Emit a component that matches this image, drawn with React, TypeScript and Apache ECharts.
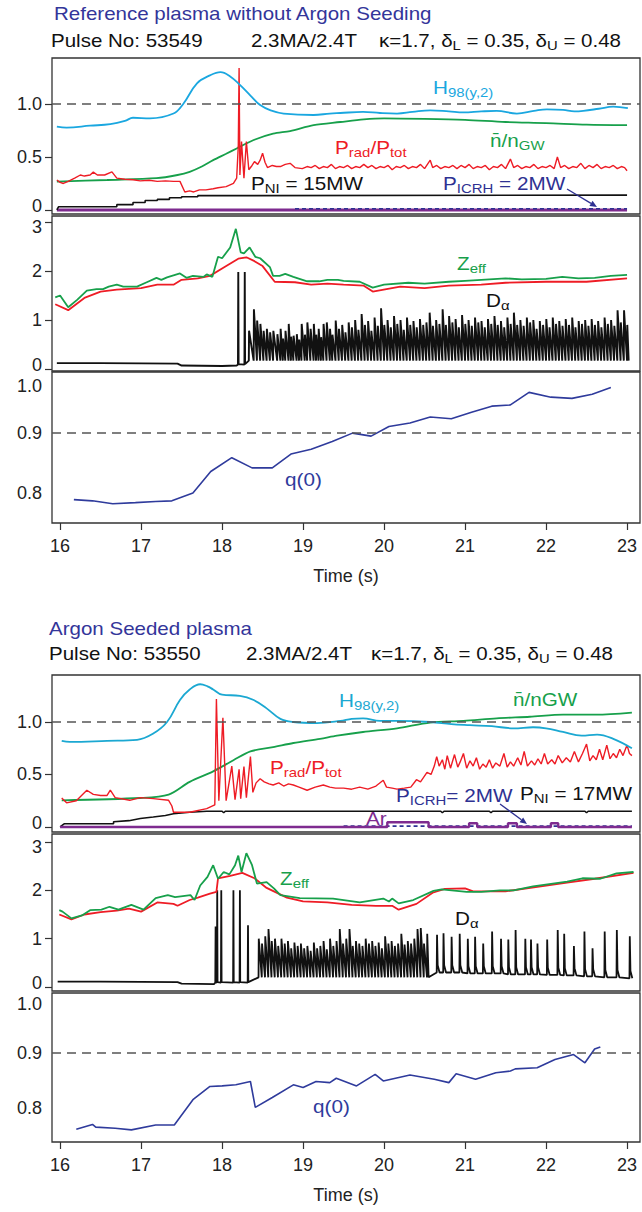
import React, { useEffect, useRef } from "react";
import * as echarts from "echarts";

const FONT = '"Liberation Sans", Arial, Helvetica, sans-serif';

// ---------- tick values ----------
const timeTicks = [16, 17, 18, 19, 20, 21, 22, 23];
const ticksTop = [0, 0.5, 1.0];
const ticksMid = [0, 1, 2, 3];
const ticksQ = [0.8, 0.9, 1.0];

// ---------- Figure 1 : Pulse 53549 (reference, no Ar) ----------
const h98_1 = [[15.96,0.786],[16.08,0.777],[16.37,0.795],[16.62,0.81],[16.8,0.84],[16.9,0.87],[17.11,0.865],[17.4,0.91],[17.52,1.0],[17.69,1.195],[17.85,1.27],[17.98,1.3],[18.1,1.26],[18.22,1.18],[18.35,1.08],[18.47,0.99],[18.6,0.94],[18.76,0.91],[19.13,0.896],[19.33,0.91],[19.46,0.915],[19.74,0.925],[19.95,0.915],[20.16,0.91],[20.35,0.925],[20.57,0.94],[20.8,0.93],[20.98,0.92],[21.2,0.93],[21.39,0.935],[21.64,0.91],[21.85,0.935],[22.01,0.95],[22.21,0.945],[22.35,0.93],[22.46,0.935],[22.65,0.955],[22.83,0.975],[23.01,0.96]];
const ngw_1 = [[15.96,0.267],[16.58,0.283],[17.19,0.3],[17.45,0.33],[17.6,0.36],[17.75,0.41],[17.89,0.47],[18.05,0.53],[18.18,0.58],[18.39,0.66],[18.63,0.72],[18.84,0.745],[19.13,0.8],[19.46,0.83],[19.75,0.855],[20.0,0.865],[20.5,0.86],[21.0,0.85],[21.5,0.83],[22.0,0.82],[22.5,0.805],[23.0,0.8]];
const prad_1 = [[15.96,0.283],[16.0,0.26],[16.04,0.25],[16.1,0.27],[16.18,0.3],[16.25,0.33],[16.3,0.32],[16.37,0.33],[16.41,0.357],[16.46,0.33],[16.55,0.33],[16.64,0.36],[16.7,0.3],[16.8,0.29],[16.9,0.285],[16.99,0.275],[17.1,0.28],[17.2,0.27],[17.3,0.275],[17.4,0.27],[17.48,0.27],[17.54,0.17],[17.6,0.18],[17.65,0.17],[17.72,0.19],[17.8,0.19],[17.89,0.2],[17.95,0.21],[18.05,0.22],[18.14,0.25],[18.18,0.3],[18.2,0.6],[18.21,1.34],[18.22,0.33],[18.24,0.645],[18.27,0.3],[18.3,0.645],[18.33,0.38],[18.37,0.42],[18.4,0.456],[18.44,0.43],[18.47,0.47],[18.5,0.535],[18.53,0.45],[18.56,0.4],[18.62,0.42],[18.67,0.41],[18.72,0.41],[18.78,0.43],[18.84,0.44],[18.9,0.4],[18.99,0.39],[19.05,0.41],[19.1,0.4],[19.15,0.42],[19.2,0.39],[19.25,0.41],[19.3,0.4],[19.35,0.43],[19.4,0.39],[19.45,0.41],[19.5,0.4],[19.55,0.42],[19.6,0.39],[19.65,0.41],[19.7,0.4],[19.75,0.43],[19.8,0.4],[19.85,0.42],[19.9,0.39],[19.95,0.41],[20.0,0.4],[20.05,0.42],[20.1,0.38],[20.15,0.41],[20.2,0.4],[20.25,0.42],[20.3,0.39],[20.35,0.41],[20.4,0.4],[20.45,0.43],[20.5,0.39],[20.57,0.47],[20.6,0.4],[20.65,0.42],[20.7,0.39],[20.75,0.41],[20.8,0.4],[20.85,0.42],[20.9,0.39],[20.95,0.42],[21.0,0.4],[21.05,0.43],[21.1,0.39],[21.15,0.41],[21.2,0.4],[21.25,0.42],[21.3,0.38],[21.35,0.41],[21.4,0.4],[21.45,0.43],[21.5,0.39],[21.56,0.48],[21.6,0.4],[21.65,0.42],[21.7,0.39],[21.75,0.41],[21.8,0.4],[21.85,0.43],[21.9,0.39],[21.95,0.41],[22.0,0.4],[22.05,0.42],[22.1,0.39],[22.14,0.5],[22.18,0.4],[22.23,0.42],[22.28,0.39],[22.33,0.41],[22.38,0.4],[22.43,0.44],[22.48,0.39],[22.53,0.42],[22.58,0.4],[22.63,0.43],[22.68,0.39],[22.73,0.41],[22.78,0.4],[22.83,0.42],[22.88,0.39],[22.93,0.41],[22.97,0.4],[23.0,0.37]];
const pni_1 = [[15.96,0.0],[15.98,0.03],[16.7,0.03],[16.7,0.05],[16.9,0.05],[16.9,0.07],[17.05,0.07],[17.05,0.09],[17.2,0.09],[17.2,0.1],[17.35,0.1],[17.35,0.115],[17.5,0.115],[17.5,0.125],[17.7,0.125],[17.7,0.135],[17.9,0.135],[17.9,0.14],[23.0,0.14]];
const picrh_1 = [[18.9,0.012],[23.0,0.012]];
const ar_1 = [[15.96,0.0],[23.0,0.0]];
const zeffA_1 = [[15.94,1.46],[16.0,1.5],[16.1,1.26],[16.21,1.41],[16.33,1.6],[16.45,1.63],[16.53,1.63],[16.6,1.68],[16.7,1.72],[16.78,1.68],[16.95,1.68],[17.07,1.77],[17.19,1.86],[17.25,1.82],[17.32,1.87],[17.48,1.95],[17.56,1.86],[17.64,1.9],[17.77,1.88],[17.81,1.93],[17.88,1.88],[17.95,2.29],[18.0,2.26],[18.1,2.48],[18.17,2.86],[18.23,2.38],[18.27,2.36],[18.34,2.48],[18.41,2.29],[18.47,2.26],[18.59,2.08],[18.63,1.9],[18.71,1.9],[18.78,1.94],[18.88,1.88],[19.05,1.79],[19.2,1.79],[19.3,1.82],[19.43,1.82],[19.5,1.8],[19.7,1.78],[19.86,1.66],[20.0,1.72],[20.3,1.76],[20.5,1.74],[20.8,1.78],[21.0,1.8],[21.2,1.82],[21.5,1.85],[21.7,1.83],[22.0,1.84],[22.2,1.88],[22.4,1.85],[22.6,1.86],[22.8,1.9],[23.0,1.92]];
const zeffB_1 = [[15.94,1.32],[16.1,1.2],[16.3,1.45],[16.5,1.58],[16.7,1.62],[17.0,1.65],[17.2,1.72],[17.4,1.72],[17.5,1.82],[17.7,1.85],[17.85,1.9],[18.0,2.05],[18.2,2.25],[18.3,2.28],[18.4,2.2],[18.5,2.1],[18.65,1.78],[18.9,1.77],[19.1,1.72],[19.3,1.74],[19.5,1.72],[19.75,1.7],[19.86,1.58],[20.2,1.68],[20.5,1.65],[20.8,1.7],[21.2,1.72],[21.5,1.76],[22.0,1.78],[22.5,1.78],[23.0,1.85]];
const daPre_1 = [[15.96,0.12],[16.5,0.12],[17.0,0.115],[17.45,0.11],[17.5,0.07],[18.0,0.06],[18.18,0.07]];
const daBig_1 = [[18.2,1.98],[18.28,1.98]];
const daDense_1 = [[18.33,0.78],[18.39,1.22],[18.43,0.99],[18.47,0.92],[18.51,0.78],[18.55,0.82],[18.59,0.75],[18.63,0.78],[18.68,0.71],[18.72,0.82],[18.75,0.62],[18.78,0.78],[18.82,0.92],[18.85,0.66],[18.88,0.68],[18.92,0.71],[18.95,0.6],[18.98,0.92],[19.02,0.7],[19.05,0.95],[19.09,0.82],[19.13,0.92],[19.16,0.7],[19.19,0.82],[19.22,0.65],[19.25,0.92],[19.29,0.95],[19.33,0.82],[19.36,0.7],[19.4,0.99],[19.44,0.82],[19.48,0.9],[19.52,0.75],[19.56,0.95],[19.6,0.85],[19.64,1.0],[19.68,0.8],[19.72,1.12],[19.76,0.9],[19.8,0.98],[19.84,0.78],[19.88,1.05],[19.92,0.88],[19.96,1.24],[20.0,0.9],[20.04,1.0],[20.08,0.85],[20.12,1.08],[20.16,0.92],[20.2,1.0],[20.24,0.8],[20.28,1.05],[20.32,0.9],[20.36,0.98],[20.4,0.85],[20.44,1.02],[20.48,0.9],[20.52,0.95],[20.56,1.15],[20.6,0.88],[20.64,1.0],[20.68,0.92],[20.72,1.22],[20.76,0.9],[20.8,1.08],[20.84,0.95],[20.88,1.02],[20.92,0.85],[20.96,1.1],[21.0,0.92],[21.04,1.0],[21.08,0.88],[21.12,1.05],[21.16,0.95],[21.2,0.98],[21.24,0.85],[21.28,1.02],[21.32,0.92],[21.36,1.08],[21.4,0.9],[21.44,0.98],[21.48,0.85],[21.52,1.05],[21.56,0.92],[21.6,1.15],[21.64,0.9],[21.68,1.0],[21.72,0.88],[21.76,1.05],[21.8,0.95],[21.84,1.0],[21.88,0.82],[21.92,0.98],[21.96,0.9],[22.0,1.02],[22.04,0.85],[22.08,1.05],[22.12,0.92],[22.16,0.98],[22.2,0.88],[22.24,1.02],[22.28,0.9],[22.32,1.05],[22.36,0.85],[22.4,0.98],[22.44,0.92],[22.48,1.0],[22.52,0.88],[22.56,1.02],[22.6,0.9],[22.64,0.98],[22.68,0.85],[22.72,1.05],[22.76,0.92],[22.8,1.0],[22.84,0.88],[22.88,1.2],[22.92,0.95],[22.96,1.2],[23.0,0.9]];
const daFloor_1 = 0.17;
const q_1 = [[16.17,0.789],[16.4,0.787],[16.65,0.782],[16.93,0.784],[17.18,0.786],[17.38,0.787],[17.64,0.8],[17.86,0.836],[18.12,0.859],[18.37,0.842],[18.62,0.842],[18.85,0.865],[19.1,0.873],[19.36,0.886],[19.61,0.9],[19.84,0.895],[20.06,0.911],[20.32,0.917],[20.57,0.927],[20.83,0.924],[21.08,0.935],[21.33,0.945],[21.56,0.947],[21.79,0.968],[22.06,0.96],[22.32,0.958],[22.57,0.965],[22.8,0.976]];

// ---------- Figure 2 : Pulse 53550 (Ar seeded) ----------
const h98_2 = [[16.02,0.82],[16.12,0.81],[16.58,0.82],[16.95,0.83],[17.15,0.89],[17.32,1.0],[17.48,1.21],[17.6,1.31],[17.73,1.36],[17.82,1.34],[17.89,1.31],[18.0,1.26],[18.22,1.25],[18.39,1.21],[18.55,1.13],[18.72,1.03],[18.88,1.0],[19.17,0.99],[19.46,1.01],[19.6,1.03],[19.74,1.035],[19.95,1.01],[20.16,1.01],[20.57,1.0],[20.83,0.98],[21.06,0.97],[21.33,0.96],[21.6,0.94],[21.84,0.95],[22.0,0.94],[22.21,0.905],[22.44,0.87],[22.63,0.88],[22.83,0.84],[23.06,0.75]];
const ngw_2 = [[16.02,0.254],[16.99,0.276],[17.34,0.308],[17.6,0.43],[17.89,0.53],[18.14,0.636],[18.35,0.72],[18.63,0.76],[18.88,0.8],[19.21,0.84],[19.42,0.87],[19.74,0.905],[20.16,0.94],[20.57,0.995],[20.98,1.01],[21.39,1.035],[21.8,1.05],[22.21,1.07],[22.62,1.07],[23.06,1.09]];
const prad_2 = [[16.02,0.276],[16.08,0.23],[16.2,0.25],[16.33,0.35],[16.41,0.31],[16.5,0.3],[16.58,0.3],[16.62,0.35],[16.68,0.28],[16.86,0.254],[16.99,0.28],[17.15,0.27],[17.34,0.254],[17.38,0.2],[17.4,0.14],[17.6,0.14],[17.81,0.175],[17.91,0.21],[17.93,1.22],[17.96,0.25],[18.01,1.04],[18.05,0.25],[18.12,0.58],[18.16,0.26],[18.21,0.55],[18.23,0.27],[18.27,0.575],[18.3,0.28],[18.35,0.67],[18.38,0.33],[18.42,0.42],[18.47,0.46],[18.52,0.43],[18.58,0.41],[18.63,0.4],[18.7,0.42],[18.76,0.39],[18.82,0.41],[18.88,0.4],[18.95,0.38],[19.05,0.35],[19.15,0.38],[19.25,0.4],[19.33,0.38],[19.4,0.37],[19.5,0.37],[19.6,0.36],[19.7,0.38],[19.8,0.36],[19.9,0.39],[19.99,0.445],[20.03,0.38],[20.1,0.37],[20.16,0.36],[20.25,0.37],[20.33,0.38],[20.4,0.45],[20.45,0.43],[20.53,0.52],[20.58,0.5],[20.62,0.58],[20.65,0.67],[20.68,0.58],[20.72,0.64],[20.75,0.55],[20.78,0.68],[20.82,0.56],[20.87,0.69],[20.91,0.57],[20.94,0.62],[20.98,0.7],[21.02,0.56],[21.06,0.63],[21.1,0.58],[21.14,0.66],[21.18,0.55],[21.22,0.6],[21.26,0.57],[21.3,0.64],[21.34,0.56],[21.38,0.61],[21.43,0.58],[21.48,0.7],[21.52,0.57],[21.56,0.62],[21.6,0.58],[21.65,0.66],[21.69,0.59],[21.73,0.72],[21.77,0.58],[21.82,0.63],[21.86,0.59],[21.9,0.65],[21.94,0.6],[21.98,0.7],[22.02,0.6],[22.07,0.64],[22.11,0.6],[22.15,0.68],[22.2,0.61],[22.25,0.66],[22.3,0.62],[22.35,0.72],[22.4,0.62],[22.45,0.7],[22.5,0.79],[22.54,0.63],[22.58,0.68],[22.62,0.64],[22.66,0.74],[22.7,0.64],[22.75,0.78],[22.79,0.65],[22.83,0.7],[22.87,0.66],[22.91,0.74],[22.95,0.68],[23.0,0.78],[23.03,0.7],[23.06,0.68]];
const pni_2 = [[16.0,0.0],[16.05,0.03],[16.66,0.03],[16.66,0.05],[16.85,0.06],[16.99,0.08],[17.15,0.095],[17.3,0.11],[17.4,0.126],[17.6,0.14],[17.81,0.15],[18.0,0.15],[18.02,0.135],[18.04,0.15],[20.7,0.15],[20.72,0.135],[20.74,0.15],[21.3,0.15],[21.32,0.135],[21.34,0.15],[22.48,0.15],[22.5,0.135],[22.52,0.15],[23.06,0.15]];
const picrh_2 = [[19.5,0.008],[23.06,0.008]];
const ar_2 = [[16.0,0.0],[20.04,0.0],[20.04,0.045],[20.55,0.045],[20.55,0.0],[21.05,0.0],[21.05,0.035],[21.15,0.035],[21.15,0.0],[21.53,0.0],[21.53,0.035],[21.64,0.035],[21.64,0.0],[22.06,0.0],[22.06,0.035],[22.15,0.035],[22.15,0.0],[23.06,0.0]];
const zeffA_2 = [[15.99,1.59],[16.03,1.56],[16.14,1.42],[16.27,1.48],[16.37,1.59],[16.51,1.6],[16.61,1.66],[16.72,1.6],[16.88,1.7],[17.03,1.6],[17.18,1.84],[17.33,1.9],[17.42,1.86],[17.61,1.9],[17.66,1.8],[17.73,2.1],[17.82,2.28],[17.89,2.52],[17.95,2.24],[18.02,2.38],[18.09,2.33],[18.16,2.52],[18.2,2.72],[18.24,2.38],[18.3,2.77],[18.37,2.52],[18.43,2.14],[18.55,2.17],[18.64,2.04],[18.72,1.9],[18.96,1.84],[19.37,1.83],[19.7,1.75],[19.99,1.83],[20.06,1.77],[20.1,1.83],[20.18,1.73],[20.36,1.8],[20.61,1.99],[20.71,2.02],[21.02,1.97],[21.2,1.97],[21.43,2.0],[21.6,2.0],[21.84,2.08],[22.26,2.18],[22.45,2.25],[22.67,2.24],[22.87,2.35],[23.08,2.38]];
const zeffB_2 = [[15.99,1.5],[16.14,1.4],[16.3,1.5],[16.5,1.55],[16.7,1.58],[16.85,1.62],[17.0,1.56],[17.2,1.75],[17.4,1.72],[17.45,1.68],[17.6,1.8],[17.7,1.85],[17.85,1.93],[17.93,1.97],[17.95,2.25],[18.1,2.3],[18.25,2.36],[18.4,2.25],[18.55,2.05],[18.8,1.85],[19.0,1.77],[19.3,1.75],[19.6,1.7],[19.9,1.68],[20.1,1.68],[20.18,1.6],[20.4,1.72],[20.6,1.95],[20.75,2.03],[21.0,2.04],[21.1,1.98],[21.5,1.98],[21.85,2.06],[22.26,2.16],[22.6,2.24],[23.08,2.36]];
const daPre_2 = [[15.97,0.11],[16.5,0.11],[17.0,0.105],[17.45,0.1],[17.5,0.07],[17.9,0.06]];
const daBig_2 = [[17.92,1.25],[17.94,2.0],[17.99,2.0],[18.14,2.0],[18.22,2.0],[18.32,1.28]];
const daDense_2 = [[18.45,1.0],[18.49,0.9],[18.53,1.05],[18.57,1.2],[18.61,0.95],[18.65,1.0],[18.69,0.85],[18.73,1.0],[18.77,0.9],[18.81,0.95],[18.85,0.8],[18.89,0.92],[18.93,0.85],[18.97,0.9],[19.01,0.8],[19.05,0.85],[19.09,0.75],[19.13,0.92],[19.17,0.8],[19.21,0.85],[19.25,0.95],[19.29,0.78],[19.33,1.0],[19.37,0.85],[19.41,0.95],[19.45,1.2],[19.49,0.9],[19.53,1.0],[19.57,1.2],[19.61,0.85],[19.65,0.95],[19.69,0.9],[19.73,0.85],[19.77,1.0],[19.81,0.9],[19.85,0.95],[19.89,0.85],[19.93,0.92],[19.97,0.8],[20.01,1.05],[20.05,0.9],[20.09,0.95],[20.13,0.85],[20.17,0.9],[20.21,1.1],[20.25,0.88],[20.29,0.95],[20.33,0.9],[20.37,1.0],[20.41,1.2],[20.45,1.22],[20.49,0.9],[20.53,1.1]];
const daFloor_2 = 0.2;
const daElm_2 = [[20.65,1.08,0.3],[20.73,1.11,0.3],[20.83,1.04,0.3],[20.93,1.1,0.3],[21.03,1.0,0.28],[21.12,1.04,0.28],[21.22,0.9,0.28],[21.33,1.15,0.28],[21.44,1.0,0.28],[21.53,0.98,0.26],[21.62,1.18,0.26],[21.74,1.0,0.26],[21.81,0.98,0.26],[21.89,0.9,0.26],[22.01,0.98,0.25],[22.14,1.18,0.25],[22.22,1.1,0.24],[22.34,0.85,0.24],[22.47,1.15,0.22],[22.57,0.8,0.22],[22.72,1.15,0.2],[22.87,1.18,0.2],[23.03,1.05,0.18]];
const q_2 = [[16.2,0.761],[16.4,0.77],[16.44,0.765],[16.68,0.763],[16.88,0.76],[17.18,0.769],[17.41,0.769],[17.64,0.815],[17.85,0.839],[18.0,0.84],[18.17,0.842],[18.35,0.848],[18.41,0.801],[18.62,0.819],[18.88,0.842],[19.0,0.837],[19.16,0.848],[19.33,0.846],[19.41,0.854],[19.66,0.84],[19.89,0.861],[19.99,0.849],[20.32,0.86],[20.62,0.852],[20.8,0.846],[20.89,0.862],[21.13,0.852],[21.38,0.864],[21.56,0.867],[21.62,0.871],[21.89,0.873],[22.11,0.888],[22.34,0.897],[22.48,0.882],[22.6,0.907],[22.67,0.911]];

// ---------- colours ----------
const C_H98 = "#1aa7e0";
const C_NGW = "#17a04b";
const C_RED = "#ee1c25";
const C_BLK = "#111111";
const C_ICRH = "#2e3192";
const C_AR = "#7e2b8f";
const C_Q = "#2f3b9c";
const C_TITLE = "#33359a";

// Dα trace: pre-ELM baseline, large isolated spikes, dense ELMs (sawtooth) and isolated ELMs
function daSeries(pre: number[][], big: number[][], dense: number[][], floor: number, elms: number[][]) {
  const pts: number[][] = pre.slice();
  big.forEach(([t, v]) => { pts.push([t - 0.004, 0.09], [t, v], [t + 0.004, 0.1]); });
  dense.forEach(([t, v]) => { pts.push([t, floor], [t + 0.003, v]); });
  if (dense.length) pts.push([dense[dense.length - 1][0] + 0.02, floor]);
  elms.forEach(([t, v, b]) => { pts.push([t, b], [t + 0.004, v], [t + 0.012, b + 0.15], [t + 0.035, b]); });
  return pts;
}

const GRIDS = [
  { top: 58, height: 156, min: -0.038, max: 1.434, ticks: ticksTop, showTick: true },
  { top: 216, height: 155, min: -0.041, max: 3.122, ticks: ticksMid, showTick: true },
  { top: 372, height: 151, min: 0.75, max: 1.002, ticks: ticksQ, showTick: false },
  { top: 675, height: 157, min: -0.048, max: 1.448, ticks: ticksTop, showTick: true },
  { top: 834, height: 157, min: -0.083, max: 3.166, ticks: ticksMid, showTick: true },
  { top: 993, height: 149, min: 0.738, max: 1.009, ticks: ticksQ, showTick: false },
];

function fmtLabel(i: number) {
  return (v: number) => {
    if (i === 1 || i === 4) {
      const r = Math.round(v);
      if (r === 0) return "{up|0}";
      if (r === 3) return "{dn|3}";
      return String(r);
    }
    if (v === 0) return "{up|0}";
    if (i === 2 && Math.abs(v - 1) < 1e-9) return "{lo|1.0}";
    if (i === 5 && Math.abs(v - 1) < 1e-9) return "{dn2|1.0}";
    return v.toFixed(1);
  };
}

const dash = { color: "#555", type: [9, 6], width: 1.5 };
function refLine(y: number) {
  return { silent: true, symbol: ["none", "none"], label: { show: false }, lineStyle: dash, data: [{ yAxis: y }] };
}

function line(data: number[][], idx: number, color: string, width: number, extra: any = {}) {
  return {
    type: "line", xAxisIndex: idx, yAxisIndex: idx, data, showSymbol: false, symbol: "none",
    lineStyle: { color, width, ...(extra.lineStyle || {}) }, itemStyle: { color },
    smooth: extra.smooth || false, z: extra.z || 2, markLine: extra.markLine, silent: true,
  };
}

// rich-text label helper
function lbl(x: number, y: number, text: string, color: string, size = 18) {
  const sub = Math.round(size * 0.72);
  return {
    type: "text", x, y, scaleX: 1.15, z: 10,
    style: {
      text, fill: color, fontSize: size, fontFamily: FONT, align: "left", verticalAlign: "middle",
      rich: {
        b: { fontSize: size, fontFamily: FONT, fill: color },
        s: { fontSize: sub, fontFamily: FONT, fill: color, padding: [9, 0, 0, 0] },
      },
    },
  };
}

function arrow(x1: number, y1: number, x2: number, y2: number, color: string) {
  const dx = x2 - x1, dy = y2 - y1, L = Math.hypot(dx, dy);
  const ux = dx / L, uy = dy / L;
  const bx = x2 - ux * 7, by = y2 - uy * 7;
  return [
    { type: "line", z: 10, shape: { x1, y1, x2: bx, y2: by }, style: { stroke: color, lineWidth: 1.3 } },
    { type: "polygon", z: 10, shape: { points: [[x2, y2], [bx - uy * 3, by + ux * 3], [bx + uy * 3, by - ux * 3]] }, style: { fill: color } },
  ];
}

export default function App() {
  const ref = useRef<HTMLDivElement>(null);
  useEffect(() => {
    if (!ref.current) return;
    const chart = echarts.init(ref.current, undefined, { renderer: "svg" });
    const grid = GRIDS.map((g) => ({
      left: 52, width: 588, top: g.top, height: g.height, show: true,
      borderColor: "#333333", borderWidth: 1.3, backgroundColor: "transparent",
    }));
    const xAxis = GRIDS.map((g, i) => ({
      gridIndex: i, type: "value", min: 15.9, max: 23.16, show: i === 2 || i === 5,
      axisLine: { show: false }, splitLine: { show: false },
      axisTick: { show: true, inside: false, length: 7, customValues: timeTicks, lineStyle: { color: "#333", width: 1.2 } },
      axisLabel: { customValues: timeTicks, fontSize: 18, color: "#222", fontFamily: FONT, margin: 14 },
      name: "Time (s)", nameLocation: "middle", nameGap: 44,
      nameTextStyle: { fontSize: 18, color: "#222", fontFamily: FONT },
    }));
    const richBase = { fontSize: 18, color: "#222", fontFamily: FONT };
    const yAxis = GRIDS.map((g, i) => ({
      gridIndex: i, type: "value", min: g.min, max: g.max,
      axisLine: { show: false }, splitLine: { show: false },
      axisTick: { show: g.showTick, inside: false, length: 7, customValues: g.ticks, lineStyle: { color: "#333", width: 1.2 } },
      axisLabel: {
        customValues: g.ticks, fontSize: 18, color: "#222", fontFamily: FONT, margin: 10,
        formatter: fmtLabel(i),
        rich: {
          lo: { ...richBase, padding: [26, 0, 0, 0] },
          dn2: { ...richBase, padding: [12, 0, 0, 0] },
          dn: { ...richBase, padding: [10, 0, 0, 0] },
          up: { ...richBase, padding: [0, 0, 8, 0] },
        },
      },
    }));
    const series = [
      // fig 1 panel 1
      line(ar_1, 0, C_AR, 3, { z: 1 }),
      line(picrh_1, 0, C_ICRH, 1.6, { lineStyle: { type: [4, 3] }, z: 2 }),
      line(pni_1, 0, C_BLK, 1.6),
      line(ngw_1, 0, C_NGW, 1.8, { smooth: 0.3 }),
      line(prad_1, 0, C_RED, 1.4),
      line(h98_1, 0, C_H98, 1.8, { smooth: 0.4, markLine: refLine(1.0) }),
      // fig 1 panel 2
      line(daSeries(daPre_1, daBig_1, daDense_1, daFloor_1, []), 1, C_BLK, 1.9),
      line(zeffB_1, 1, C_RED, 1.8),
      line(zeffA_1, 1, C_NGW, 1.8),
      // fig 1 panel 3
      line(q_1, 2, C_Q, 1.6, { markLine: refLine(0.9) }),
      // fig 2 panel 1
      line(picrh_2, 3, C_ICRH, 1.6, { lineStyle: { type: [4, 3] } }),
      line(ar_2, 3, C_AR, 2.4, { z: 3 }),
      line(pni_2, 3, C_BLK, 1.6),
      line(ngw_2, 3, C_NGW, 1.8, { smooth: 0.3 }),
      line(prad_2, 3, C_RED, 1.4),
      line(h98_2, 3, "#1ba8d2", 1.8, { smooth: 0.4, markLine: refLine(1.0) }),
      // fig 2 panel 2
      line(daSeries(daPre_2, daBig_2, daDense_2, daFloor_2, daElm_2), 4, C_BLK, 1.8),
      line(zeffB_2, 4, C_RED, 1.8),
      line(zeffA_2, 4, C_NGW, 1.8),
      // fig 2 panel 3
      line(q_2, 5, C_Q, 1.6, { markLine: refLine(0.9) }),
    ];
    const titleTxt = (x: number, y: number, text: string, color: string) => ({
      type: "text", x, y, scaleX: 1.14, z: 10,
      style: {
        text, fill: color, fontSize: 18, fontFamily: FONT, align: "left", verticalAlign: "middle",
        rich: {
          b: { fontSize: 18, fontFamily: FONT, fill: color },
          s: { fontSize: 13, fontFamily: FONT, fill: color, padding: [9, 0, 0, 0] },
        },
      },
    });
    const kappa = "{b|\u03ba=1.7, \u03b4}{s|L}{b| = 0.35, \u03b4}{s|U}{b| = 0.48}";
    const graphic = [
      titleTxt(54, 14, "Reference plasma without Argon Seeding", C_TITLE),
      titleTxt(51, 41, "Pulse No: 53549", "#111"),
      titleTxt(251, 41, "2.3MA/2.4T", "#111"),
      titleTxt(379, 41, kappa, "#111"),
      titleTxt(49, 629, "Argon Seeded plasma", C_TITLE),
      titleTxt(49, 654, "Pulse No: 53550", "#111"),
      titleTxt(246, 654, "2.3MA/2.4T", "#111"),
      titleTxt(371, 654, kappa, "#111"),
      // fig 1 labels
      lbl(433, 88, "{b|H}{s|98(y,2)}", C_H98),
      lbl(490, 141, "{b|n\u0304/n}{s|GW}", C_NGW),
      lbl(335, 148, "{b|P}{s|rad}{b|/P}{s|tot}", C_RED),
      lbl(251, 184, "{b|P}{s|NI}{b| = 15MW}", C_BLK),
      lbl(443, 184, "{b|P}{s|ICRH}{b| = 2MW}", C_ICRH),
      ...arrow(567, 189, 597, 207, C_ICRH),
      lbl(457, 264, "{b|Z}{s|eff}", C_NGW),
      lbl(486, 301, "{b|D}{s|\u03b1}", C_BLK),
      lbl(285, 480, "{b|q(0)}", C_Q),
      // fig 2 labels
      lbl(339, 701, "{b|H}{s|98(y,2)}", "#1ba8d2"),
      lbl(513, 700, "{b|n\u0304/nGW}", C_NGW),
      lbl(270, 768, "{b|P}{s|rad}{b|/P}{s|tot}", C_RED),
      lbl(396, 796, "{b|P}{s|ICRH}{b|= 2MW}", C_ICRH),
      lbl(520, 794, "{b|P}{s|NI}{b| = 17MW}", C_BLK),
      ...arrow(500, 804, 527, 824, C_ICRH),
      lbl(366, 819, "{b|Ar}", C_AR),
      lbl(280, 879, "{b|Z}{s|eff}", C_NGW),
      lbl(455, 919, "{b|D}{s|\u03b1}", C_BLK),
      lbl(313, 1107, "{b|q(0)}", C_Q),
    ];
    chart.setOption({
      animation: false,
      backgroundColor: "#ffffff",
      grid, xAxis, yAxis, series, graphic,
    });
    return () => chart.dispose();
  }, []);
  return (
    <div
      ref={ref}
      style={{ position: "absolute", left: 0, top: 0, width: 642, height: 1212 }}
    />
  );
}
